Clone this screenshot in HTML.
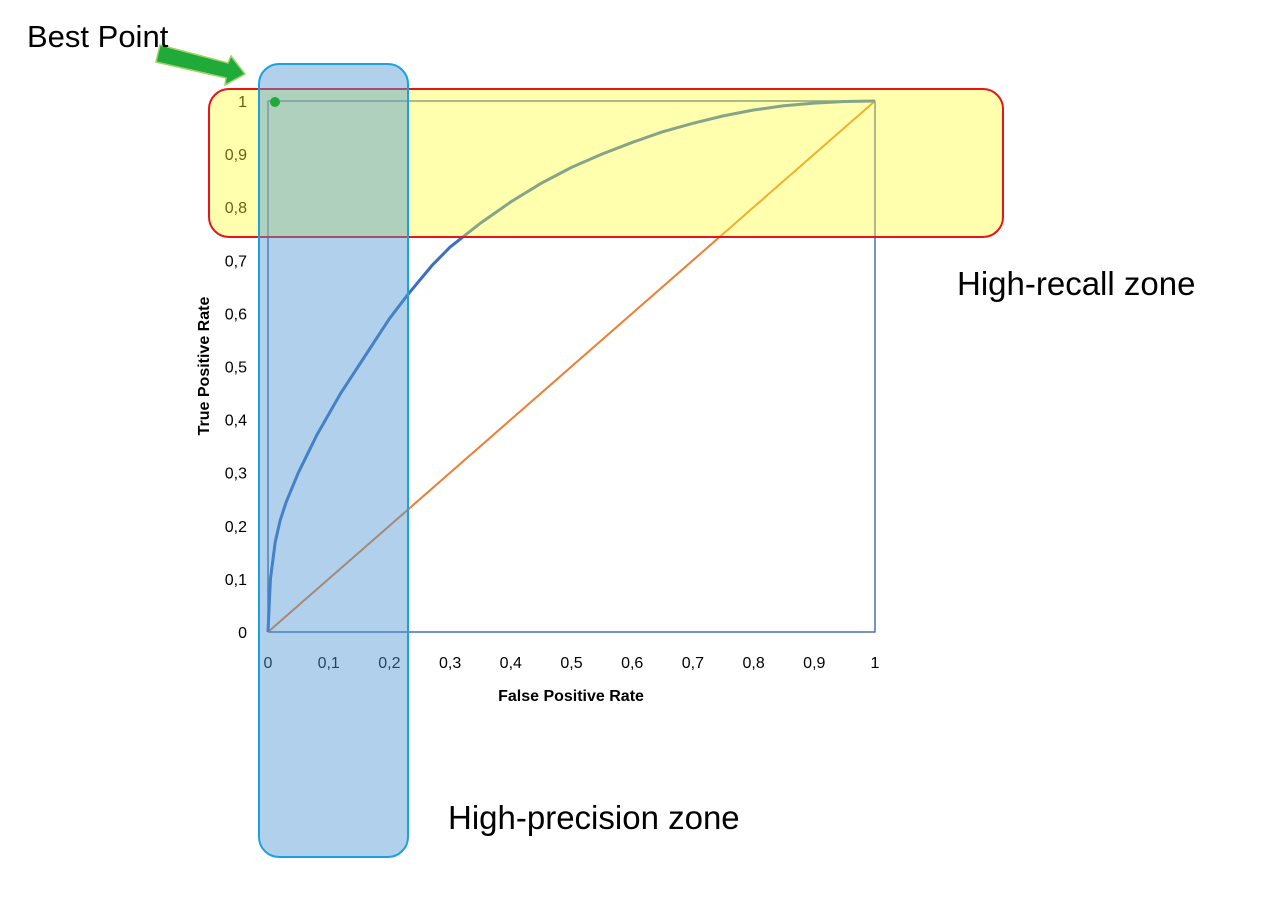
<!DOCTYPE html>
<html><head><meta charset="utf-8"><style>
body{margin:0;background:#fff;width:1280px;height:901px;overflow:hidden;font-family:"Liberation Sans",sans-serif}
</style></head><body>
<svg width="1280" height="901" style="position:absolute;left:0;top:0">
<g id="ticks" font-size="16" fill="#000" font-family="Liberation Sans, sans-serif"></g>
<g id="lines"></g>
<text x="571" y="701" text-anchor="middle" font-weight="bold" font-size="16">False Positive Rate</text>
<text transform="translate(209,366) rotate(-90)" text-anchor="middle" font-weight="bold" font-size="16">True Positive Rate</text>
<rect x="209" y="89" width="794" height="148" rx="20" fill="rgba(255,255,40,0.38)" stroke="#e8141c" stroke-width="2"/>
<rect x="259" y="64" width="149" height="793" rx="20" fill="rgba(80,150,210,0.45)" stroke="#1ba1e2" stroke-width="2"/>
<circle cx="275" cy="102" r="5" fill="#1faa3a"/>
<polygon points="160,45 228,63 231,56 245,74 225,85 226,78 156,62" fill="#1faa3a" stroke="#9fd36a" stroke-width="1.5"/>
<text x="27" y="47" font-size="31">Best Point</text>
<text x="957" y="295" font-size="33">High-recall zone</text>
<text x="448" y="829" font-size="33">High-precision zone</text>
</svg>
<script>
const xTicks=[0,0.1,0.2,0.3,0.4,0.5,0.6,0.7,0.8,0.9,1];
const yTicks=[0,0.1,0.2,0.3,0.4,0.5,0.6,0.7,0.8,0.9,1];
const rocX=[0,0.004,0.012,0.02,0.03,0.05,0.08,0.12,0.16,0.2,0.23,0.27,0.3,0.35,0.4,0.45,0.5,0.55,0.6,0.65,0.7,0.75,0.8,0.85,0.9,0.95,1];
const rocY=[0,0.1,0.17,0.21,0.245,0.3,0.37,0.45,0.52,0.59,0.635,0.69,0.725,0.77,0.81,0.845,0.875,0.9,0.922,0.942,0.958,0.972,0.983,0.991,0.996,0.999,1];
const diagX=[0,1];
const diagY=[0,1];
const X=v=>268+v*607, Y=v=>632-v*531;
const NS='http://www.w3.org/2000/svg';
const tg=document.getElementById('ticks'), lg=document.getElementById('lines');
const fmt=v=>String(v).replace('.',',');
xTicks.forEach(v=>{const t=document.createElementNS(NS,'text');t.setAttribute('x',X(v));t.setAttribute('y',668);t.setAttribute('text-anchor','middle');t.textContent=fmt(v);


tg.appendChild(t);});
yTicks.forEach(v=>{const t=document.createElementNS(NS,'text');t.setAttribute('x',247);t.setAttribute('y',Y(v)+6);t.setAttribute('text-anchor','end');t.textContent=fmt(v);


tg.appendChild(t);});
function path(xs,ys,color,w,name){const p=document.createElementNS(NS,'path');p.setAttribute('d',xs.map((x,i)=>(i?'L':'M')+X(x)+','+Y(ys[i])).join(''));p.setAttribute('fill','none');p.setAttribute('stroke',color);p.setAttribute('stroke-width',w);p.setAttribute('stroke-linejoin','round');


lg.appendChild(p);}
path([0,0,1,1,0],[0,1,1,0,0],'#4a6fb0',1.5,'plot-frame');
path(diagX,diagY,'#ed7d31',2,'random-classifier-line');
path(rocX,rocY,'#3a6fc4',3,'roc-curve');
</script>
</body></html>
